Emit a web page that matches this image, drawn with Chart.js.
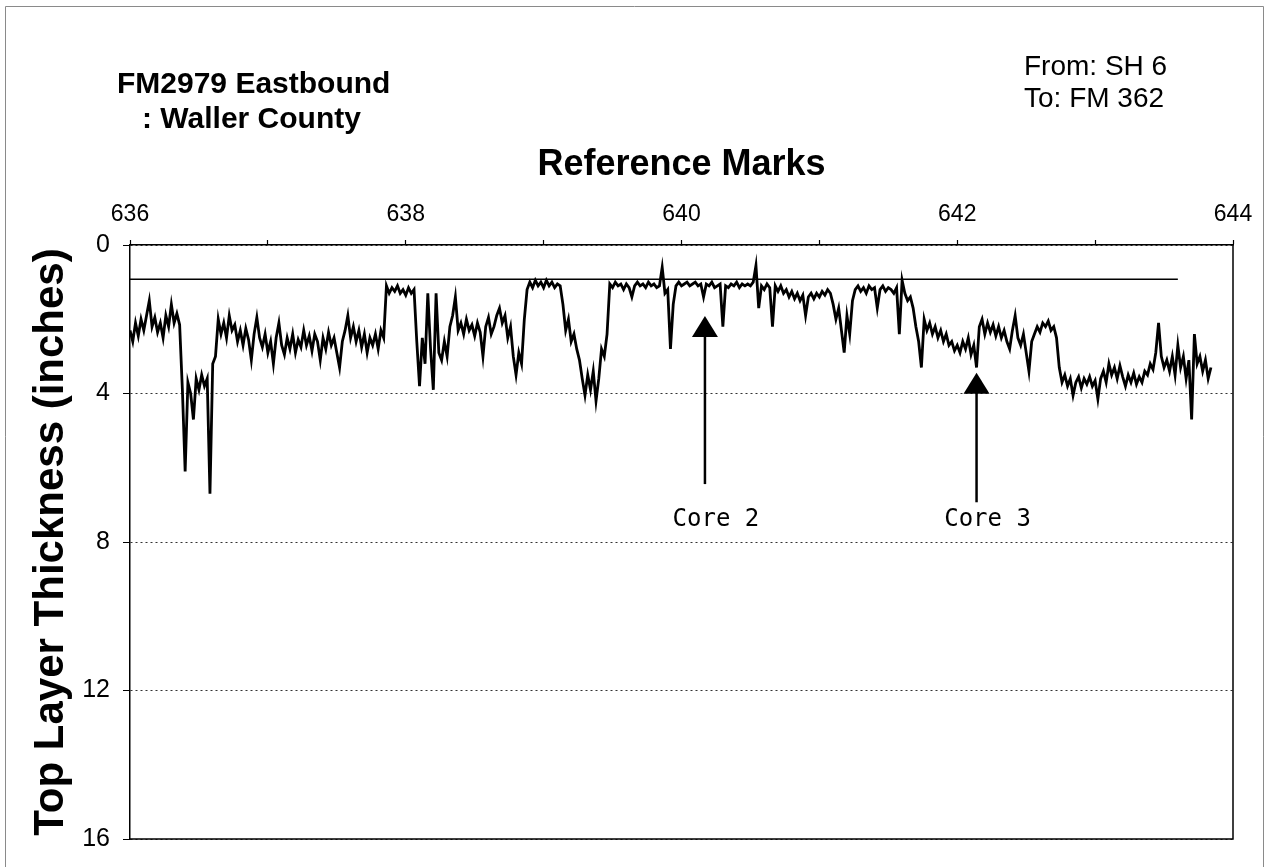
<!DOCTYPE html>
<html>
<head>
<meta charset="utf-8">
<title>FM2979 Eastbound</title>
<script src="https://cdn.jsdelivr.net/npm/chart.js@4.4.1/dist/chart.umd.min.js"></script>
<style>
  html, body { margin: 0; padding: 0; background: #fff; }
  #wrap { width: 1269px; height: 867px; position: relative; }
</style>
</head>
<body>
<div id="wrap"><canvas id="thickness-graph" width="1269" height="867"></canvas></div>
<script>
// reference marks sampled every 0.02 from 636
const markStart = 636;
const markStep = 0.02;
const thickness = [
    2.3, 2.6, 2.1, 2.45, 2.0, 2.3, 1.9, 1.5, 2.2, 1.95,
    2.35, 2.1, 2.5, 1.9, 2.2, 1.6, 2.1, 1.85, 2.15, 3.9,
    6.1, 3.7, 4.0, 4.7, 3.6, 3.9, 3.5, 3.8, 3.6, 6.7,
    3.2, 3.0, 2.0, 2.4, 2.1, 2.5, 1.9, 2.3, 2.15, 2.6,
    2.3, 2.7, 2.25, 2.55, 3.1, 2.4, 1.95, 2.5, 2.75, 2.4,
    2.9, 2.6, 3.2, 2.5, 2.1, 2.7, 2.95, 2.5, 2.8, 2.4,
    2.9, 2.55, 2.75, 2.3, 2.7, 2.45, 2.85, 2.4, 2.6, 3.1,
    2.5, 2.8, 2.35, 2.7, 2.5, 2.9, 3.3, 2.6, 2.3, 1.9,
    2.5, 2.2, 2.6, 2.3, 2.75, 2.4, 2.9, 2.5, 2.7, 2.4,
    2.8, 2.3, 2.5, 1.1, 1.3, 1.15, 1.25, 1.1, 1.3, 1.2,
    1.35, 1.15, 1.3, 1.2, 2.6, 3.8, 2.5, 3.2, 1.3, 2.8,
    3.9, 1.3, 2.9, 3.1, 2.6, 3.0, 2.2, 1.9, 1.4, 2.3,
    2.1, 2.4, 2.0, 2.3, 2.15, 2.45, 2.1, 2.35, 3.0, 2.2,
    1.95, 2.4, 2.2, 1.9, 1.7, 2.1, 1.9, 2.5, 2.2, 3.0,
    3.5, 2.9, 3.2, 2.0, 1.2, 1.0, 1.15, 0.95, 1.1, 1.0,
    1.15, 0.95, 1.1, 1.0, 1.15, 1.05, 1.1, 1.6, 2.3, 2.0,
    2.6, 2.4, 2.8, 3.1, 3.6, 4.05, 3.5, 3.9, 3.4, 4.2,
    3.6, 2.8, 3.0, 2.4, 1.05, 1.15, 1.0, 1.1, 1.05, 1.2,
    1.05, 1.15, 1.4, 1.1, 1.0, 1.1, 1.05, 1.15, 1.0, 1.1,
    1.05, 1.15, 1.1, 0.6, 1.3, 1.2, 2.8, 1.6, 1.1, 1.0,
    1.1, 1.05, 1.0, 1.1, 1.05, 1.0, 1.1, 1.05, 1.4, 1.05,
    1.1, 1.0, 1.15, 1.1, 1.05, 2.2, 1.1, 1.15, 1.05, 1.1,
    1.0, 1.15, 1.05, 1.1, 1.05, 1.1, 1.0, 0.55, 1.7, 1.1,
    1.2, 1.05, 1.15, 2.2, 1.1, 1.25, 1.1, 1.3, 1.2, 1.4,
    1.25, 1.45, 1.3, 1.5, 1.35, 1.9, 1.4, 1.3, 1.45, 1.3,
    1.4, 1.25, 1.35, 1.2, 1.3, 1.6, 2.0, 1.7, 2.3, 2.9,
    1.9, 2.4, 1.5, 1.2, 1.1, 1.25, 1.15, 1.3, 1.1, 1.2,
    1.15, 1.7, 1.2, 1.1, 1.25, 1.15, 1.2, 1.3, 1.15, 2.4,
    0.95, 1.3, 1.5, 1.4, 1.7, 2.2, 2.6, 3.3, 2.0, 2.3,
    2.1, 2.4, 2.2, 2.5, 2.3, 2.6, 2.4, 2.7, 2.6, 2.85,
    2.7, 2.9, 2.6, 2.8, 2.5, 2.95, 2.7, 3.3, 2.2, 2.0,
    2.4, 2.1, 2.35, 2.15, 2.45, 2.2, 2.5, 2.3, 2.6, 2.8,
    2.3, 1.9, 2.5, 2.7, 2.4, 2.9, 3.4, 2.6, 2.4, 2.2,
    2.35, 2.1, 2.2, 2.05, 2.3, 2.2, 2.5, 3.3, 3.7, 3.5,
    3.8, 3.6, 4.05, 3.7, 3.55, 3.85, 3.6, 3.75, 3.55, 3.8,
    3.65, 4.15, 3.6, 3.4, 3.7, 3.2, 3.5, 3.3, 3.6, 3.25,
    3.55, 3.8, 3.5, 3.7, 3.45, 3.75, 3.55, 3.7, 3.4, 3.5,
    3.2, 3.35, 2.9, 2.1, 3.0, 3.3, 3.1, 3.4, 3.0, 3.5,
    2.7, 3.3, 3.0, 3.6, 3.1, 4.7, 2.4, 3.2, 3.0, 3.4,
    3.1, 3.6, 3.3
];

// flat reference line near the top
const refMarks = [636, 643.6];
const refThickness = [0.92, 0.92];

// axes
const xMin = 636, xMax = 644, xStep = 1;
const yMin = 0, yMax = 16, yStep = 4;

// core arrows
const coreNames = ['Core 2', 'Core 3'];
const coreMarks = [640.17, 642.14];
const coreTips = [1.91, 3.44];
const coreTails = [6.44, 6.93];
const coreLabelDepth = 7.4;

const titleLines = ['FM2979 Eastbound', ': Waller County'];
const routeLines = ['From: SH 6', 'To: FM 362'];

const sansFont = 'Arial, "Liberation Sans", sans-serif';

const tracePoints = thickness.map((t, i) => ({x: markStart + i * markStep, y: t}));
const refPoints = refMarks.map((m, i) => ({x: m, y: refThickness[i]}));

const extrasPlugin = {
    id: 'extras',
    afterDraw(chart) {
        const ctx = chart.ctx;
        const area = chart.chartArea;
        const xs = chart.scales.x;
        const ys = chart.scales.y;
        ctx.save();

        // page frame
        ctx.strokeStyle = '#8a8a8a';
        ctx.lineWidth = 1;
        ctx.beginPath();
        ctx.moveTo(5.5, 867);
        ctx.lineTo(5.5, 6.5);
        ctx.lineTo(1263.5, 6.5);
        ctx.lineTo(1263.5, 867);
        ctx.stroke();

        // right + bottom of plot box
        ctx.strokeStyle = '#000';
        ctx.lineWidth = 1.5;
        ctx.beginPath();
        ctx.moveTo(area.right, area.top);
        ctx.lineTo(area.right, area.bottom);
        ctx.lineTo(area.left, area.bottom);
        ctx.stroke();

        // headings
        ctx.fillStyle = '#000';
        ctx.textBaseline = 'alphabetic';
        ctx.textAlign = 'left';
        ctx.font = 'bold 30px ' + sansFont;
        ctx.fillText(titleLines[0], 117, 93);
        ctx.fillText(titleLines[1], 142, 128);
        ctx.font = '28px ' + sansFont;
        ctx.fillText(routeLines[0], 1024, 75);
        ctx.fillText(routeLines[1], 1024, 107);

        // core arrows
        coreMarks.forEach((m, i) => {
            const px = xs.getPixelForValue(m);
            const tip = ys.getPixelForValue(coreTips[i]);
            const tail = ys.getPixelForValue(coreTails[i]);
            ctx.lineWidth = 2.5;
            ctx.beginPath();
            ctx.moveTo(px, tail);
            ctx.lineTo(px, tip + 18);
            ctx.stroke();
            ctx.beginPath();
            ctx.moveTo(px, tip);
            ctx.lineTo(px - 13, tip + 21);
            ctx.lineTo(px + 13, tip + 21);
            ctx.closePath();
            ctx.fill();
            ctx.font = '24px "DejaVu Sans Mono", monospace';
            ctx.textAlign = 'center';
            ctx.textBaseline = 'middle';
            ctx.fillText(coreNames[i], px + 11, ys.getPixelForValue(coreLabelDepth));
        });
        ctx.restore();
    }
};

const ctx = document.getElementById('thickness-graph').getContext('2d');
const thicknessChart = new Chart(ctx, {
    type: 'line',
    data: {
        datasets: [{
            label: 'Top layer',
            data: tracePoints,
            borderColor: '#000',
            borderWidth: 2.8,
            pointRadius: 0,
            tension: 0
        }, {
            label: 'Reference',
            data: refPoints,
            borderColor: '#000',
            borderWidth: 1.5,
            pointRadius: 0
        }]
    },
    options: {
        responsive: false,
        animation: false,
        layout: { padding: { left: 0, top: 0, right: 36, bottom: 25 } },
        plugins: {
            legend: { display: false },
            tooltip: { enabled: false }
        },
        scales: {
            x: {
                type: 'linear',
                position: 'top',
                min: xMin,
                max: xMax,
                afterFit: (scale) => { scale.height = 245; },
                ticks: {
                    stepSize: xStep,
                    autoSkip: false,
                    maxRotation: 0,
                    padding: 12,
                    color: '#000',
                    font: { family: sansFont, size: 23 },
                    callback: (v) => (v % 2 === 0 ? String(v) : '')
                },
                grid: { drawOnChartArea: false, tickLength: 5, color: '#000', tickWidth: 1.2 },
                border: { color: '#000', width: 1.5 },
                title: {
                    display: true,
                    text: 'Reference Marks',
                    color: '#000',
                    font: { family: sansFont, size: 36, weight: 'bold' },
                    padding: { top: 143, bottom: 0 }
                }
            },
            y: {
                reverse: true,
                min: yMin,
                max: yMax,
                afterFit: (scale) => { scale.width = 130; },
                ticks: {
                    stepSize: yStep,
                    padding: 13,
                    color: '#000',
                    font: { family: sansFont, size: 25 }
                },
                grid: {
                    color: '#333',
                    lineWidth: 1,
                    tickLength: 7,
                    tickColor: '#000'
                },
                border: { color: '#000', width: 1.5, dash: [2, 3] },
                title: {
                    display: true,
                    text: 'Top Layer Thickness (inches)',
                    color: '#000',
                    font: { family: sansFont, size: 42, weight: 'bold' },
                    padding: { top: 26, bottom: 0 }
                }
            }
        }
    },
    plugins: [extrasPlugin]
});
</script>
</body>
</html>
